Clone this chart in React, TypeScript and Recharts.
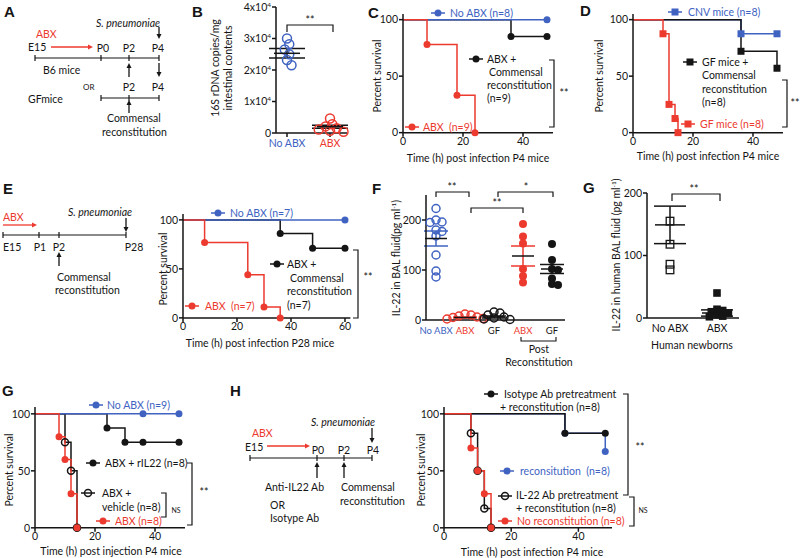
import React from 'react';
import { LineChart, Line, XAxis, YAxis, ScatterChart, Scatter, ErrorBar } from 'recharts';

const BLUE = '#4063c2';
const RED = '#ec3a2f';
const INK = '#151515';
const FONT = 'Lato, "Open Sans", Arial, sans-serif';
const FS = 10.5;

// ---- B: 16S rDNA copies/mg intestinal contents
const bLabels = ['No ABX', 'ABX'];
const bNoAbx = [30000, 28200, 26500, 25000, 23200, 21500];
const bAbx = [4600, 2800, 2100, 1500, 1100, 700, 400];
const bMean = [25300, 2000];
const bSem = [1500, 500];
const bTicks = [0, 10000, 20000, 30000, 40000];

// ---- C: survival, P4 mice (ABX vs reconstitution)
const cNoAbxT = [0, 48];
const cNoAbxS = [100, 100];
const cReconT = [0, 36, 48];
const cReconS = [100, 85, 85];
const cAbxT = [0, 8, 18, 24];
const cAbxS = [100, 78, 33, 0];

// ---- D: survival, germ-free mice
const dCnvT = [0, 36, 48];
const dCnvS = [100, 87.5, 87.5];
const dGfReconT = [0, 36, 48];
const dGfReconS = [100, 72, 57];
const dGfT = [0, 10, 12, 14, 15];
const dGfS = [100, 87.5, 25, 12.5, 0];

// ---- E: survival, P28 mice
const eNoAbxT = [0, 60];
const eNoAbxS = [100, 100];
const eReconT = [0, 36, 48, 60];
const eReconS = [100, 86, 71, 71];
const eAbxT = [0, 8, 24, 30, 36];
const eAbxS = [100, 77, 44, 11, 0];

// ---- F: IL-22 in BAL fluid
const fLabels = ['No ABX', 'ABX', 'GF', 'ABX', 'GF'];
const fNoAbx = [223, 200, 196, 195, 180, 177, 168, 130, 98, 86];
const fAbx = [12, 10, 8, 6, 5, 3, 2];
const fGf = [16, 14, 10, 6, 4, 2, 1];
const fAbxRecon = [192, 167, 153, 102, 88, 75];
const fGfRecon = [152, 120, 102, 100, 83, 72, 70];
const fMean = [163, 5, 6, 128, 102];
const fSem = [15, 1, 2, 20, 9];

// ---- G (top): IL-22 in human BAL fluid
const hbLabels = ['No ABX', 'ABX'];
const hbNoAbx = [155, 118, 86, 77];
const hbAbx = [40, 14, 12, 10, 8, 5, 3, 2];
const hbMean = [149, 8];
const hbSem = [30, 5];

// ---- G (bottom): survival after rIL22
const gNoAbxT = [0, 36, 48];
const gNoAbxS = [100, 100, 100];
const gIl22T = [0, 24, 30, 36, 48];
const gIl22S = [100, 87.5, 75, 75, 75];
const gVehT = [0, 10, 12, 14];
const gVehS = [100, 75, 50, 0];
const gAbxT = [0, 8, 10, 12, 14];
const gAbxS = [100, 80, 60, 30, 0];

// ---- H: survival after anti-IL22 pretreatment
const hIsoT = [0, 36, 48];
const hIsoS = [100, 83, 83];
const hReconT = [0, 36, 48];
const hReconS = [100, 83, 67];
const hAbT = [0, 8, 10, 12, 14];
const hAbS = [100, 83, 50, 17, 0];
const hNoReconT = [0, 8, 10, 12, 14];
const hNoReconS = [100, 70, 50, 30, 0];

const surviveTicks = [0, 50, 100];

type MarkKind = 'dot' | 'open' | 'square' | 'openSquare';

const AX = { stroke: INK, strokeWidth: 1.5 };
const TICK = { fontSize: FS, fill: INK, fontFamily: FONT };

const km = (t: number[], s: number[]) => t.map((v, i) => ({ t: v, s: s[i] }));

function Marker({ kind, x, y, color, r = 3.5 }: { kind: MarkKind; x: number; y: number; color: string; r?: number }) {
  if (kind === 'square') return <rect x={x - r} y={y - r} width={2 * r} height={2 * r} fill={color} />;
  if (kind === 'openSquare')
    return <rect x={x - r} y={y - r} width={2 * r} height={2 * r} fill="none" stroke={color} strokeWidth={1.3} />;
  if (kind === 'open') return <circle cx={x} cy={y} r={r} fill="none" stroke={color} strokeWidth={1.5} />;
  return <circle cx={x} cy={y} r={r} fill={color} />;
}

const stepDot = (kind: MarkKind, color: string) => (p: any) =>
  p.index === 0 ? (
    <g key={`d${p.index}`} />
  ) : (
    <g key={`d${p.index}`}>
      <Marker kind={kind} x={p.cx} y={p.cy} color={color} />
    </g>
  );

interface Series {
  t: number[];
  s: number[];
  color: string;
  kind: MarkKind;
}

function Survival({ x0, y0, x1, y1, xMax, yMax, xTicks, series }: any) {
  const yw = 30, xh = 20, mt = 4, mr = 6;
  return (
    <div style={{ position: 'absolute', left: x0 - yw, top: y0 - mt }}>
      <LineChart
        width={x1 - x0 + yw + mr}
        height={y1 - y0 + mt + xh}
        margin={{ top: mt, right: mr, bottom: 0, left: 0 }}
      >
        <XAxis
          type="number"
          dataKey="t"
          domain={[0, xMax]}
          ticks={xTicks}
          interval={0}
          height={xh}
          tickSize={4}
          tickMargin={1}
          axisLine={AX}
          tickLine={AX}
          tick={TICK}
        />
        <YAxis
          type="number"
          domain={[0, yMax]}
          ticks={surviveTicks}
          interval={0}
          width={yw}
          tickSize={4}
          tickMargin={1}
          axisLine={AX}
          tickLine={AX}
          tick={TICK}
        />
        {series.map((sr: Series, i: number) => (
          <Line
            key={i}
            data={km(sr.t, sr.s)}
            dataKey="s"
            type="stepAfter"
            stroke={sr.color}
            strokeWidth={1.5}
            dot={stepDot(sr.kind, sr.color)}
            activeDot={false}
            isAnimationActive={false}
          />
        ))}
      </LineChart>
    </div>
  );
}

// simple deterministic beeswarm so that markers in a group do not pile up
function swarm(values: number[], gx: number, pxX: number, pxY: number, r: number) {
  const placed: { dx: number; py: number }[] = [];
  return values.map((v) => {
    const py = v * pxY;
    let dx = 0;
    for (let k = 0; k < 40; k++) {
      const c = k === 0 ? 0 : (k % 2 ? 1 : -1) * Math.ceil(k / 2) * r * 0.5;
      if (placed.every((p) => Math.hypot(p.dx - c, p.py - py) >= r * 1.35)) {
        dx = c;
        break;
      }
    }
    placed.push({ dx, py });
    return { x: gx + dx / pxX, y: v };
  });
}

function DotPlot({ x0, y0, x1, y1, xDomain, yDomain, yTicks, yTick, labels, labelColors, labelSize, labelGap, groups, stats, meanW, capW, yw, xTickLine }: any) {
  const xh = 22, mt = 10, mr = 4;
  const pxX = (x1 - x0) / (xDomain[1] - xDomain[0]);
  const pxY = (y1 - y0) / (yDomain[1] - yDomain[0]);
  return (
    <div style={{ position: 'absolute', left: x0 - yw, top: y0 - mt }}>
      <ScatterChart
        width={x1 - x0 + yw + mr}
        height={y1 - y0 + mt + xh}
        margin={{ top: mt, right: mr, bottom: 0, left: 0 }}
      >
        <XAxis
          type="number"
          dataKey="x"
          domain={xDomain}
          ticks={labels.map((_: string, i: number) => i + 1)}
          interval={0}
          height={xh}
          tickSize={xTickLine ? 4 : 2}
          tickMargin={labelGap ?? 2}
          axisLine={AX}
          tickLine={xTickLine ? AX : false}
          tick={(p: any) => (
            <text
              x={p.x}
              y={p.y}
              dy="0.75em"
              textAnchor="middle"
              fontSize={labelSize || FS}
              fontFamily={FONT}
              fill={labelColors[p.payload.value - 1]}
            >
              {labels[p.payload.value - 1]}
            </text>
          )}
        />
        <YAxis
          type="number"
          dataKey="y"
          domain={yDomain}
          ticks={yTicks}
          interval={0}
          width={yw}
          tickSize={4}
          tickMargin={1}
          axisLine={AX}
          tickLine={AX}
          tick={yTick || TICK}
        />
        {groups.map((g: any, i: number) => (
          <Scatter
            key={i}
            data={swarm(g.values, g.x, pxX, pxY, g.r)}
            isAnimationActive={false}
            shape={(p: any) => <Marker kind={g.kind} x={p.cx} y={p.cy} color={g.color} r={g.r} />}
          />
        ))}
        {stats.map((s: any, i: number) => (
          <Scatter
            key={`s${i}`}
            data={[{ x: s.x, y: s.mean, e: s.sem }]}
            isAnimationActive={false}
            shape={(p: any) => (
              <line x1={p.cx - meanW / 2} x2={p.cx + meanW / 2} y1={p.cy} y2={p.cy} stroke={INK} strokeWidth={1.5} />
            )}
          >
            <ErrorBar dataKey="e" direction="y" width={capW} stroke={s.color} strokeWidth={1.5} />
          </Scatter>
        ))}
      </ScatterChart>
    </div>
  );
}

const expTick = (p: any) => {
  const v = p.payload.value;
  return (
    <text x={p.x} y={p.y} dy="0.35em" textAnchor="end" fontSize={FS} fontFamily={FONT} fill={INK}>
      {v === 0 ? '0' : `${v / 10000}x10`}
      {v === 0 ? null : (
        <tspan dy={-4} fontSize={6.5}>
          4
        </tspan>
      )}
    </text>
  );
};

// ---------- overlay helpers (schematics, in-plot legends, brackets) ----------
function Txt({ x, y, children, anchor = 'start', size = FS, color = INK, italic = false, weight = 400, rotate = false }: any) {
  return (
    <text
      x={x}
      y={y}
      textAnchor={anchor}
      dominantBaseline="central"
      fontSize={size}
      fill={color}
      fontStyle={italic ? 'italic' : 'normal'}
      fontWeight={weight}
      fontFamily={FONT}
      transform={rotate ? `rotate(-90 ${x} ${y})` : undefined}
    >
      {children}
    </text>
  );
}

const Letter = ({ x, y, t }: any) => (
  <text x={x} y={y} dominantBaseline="central" fontSize={15} fontWeight={700} fontFamily="'Liberation Sans', Arial, sans-serif" fill={INK}>
    {t}
  </text>
);

function Arrow({ x1, y1, x2, y2, color = INK, head = 5 }: any) {
  const a = Math.atan2(y2 - y1, x2 - x1);
  const hx = x2 - head * Math.cos(a);
  const hy = y2 - head * Math.sin(a);
  const px = -Math.sin(a) * head * 0.5;
  const py = Math.cos(a) * head * 0.5;
  return (
    <g>
      <line x1={x1} y1={y1} x2={hx} y2={hy} stroke={color} strokeWidth={1.3} />
      <polygon points={`${x2},${y2} ${hx + px},${hy + py} ${hx - px},${hy - py}`} fill={color} />
    </g>
  );
}

const Timeline = ({ y, xs }: any) => (
  <g stroke={INK} strokeWidth={1.2}>
    <line x1={xs[0]} x2={xs[xs.length - 1]} y1={y} y2={y} />
    {xs.map((x: number) => (
      <line key={x} x1={x} x2={x} y1={y - 3} y2={y + 3} />
    ))}
  </g>
);

const VBracket = ({ x, y1, y2, w = 5 }: any) => (
  <path d={`M${x - w},${y1} H${x} V${y2} H${x - w}`} fill="none" stroke={INK} strokeWidth={1.2} />
);
const HBracket = ({ x1, x2, y, h = 5 }: any) => (
  <path d={`M${x1},${y + h} V${y} H${x2} V${y + h}`} fill="none" stroke={INK} strokeWidth={1.2} />
);
const UBracket = ({ x1, x2, y, h = 4 }: any) => (
  <path d={`M${x1},${y - h} V${y} H${x2} V${y - h}`} fill="none" stroke={INK} strokeWidth={1.1} />
);

const LegMark = ({ x, y, kind, color }: any) => (
  <g>
    <line x1={x - 7} x2={x + 7} y1={y} y2={y} stroke={color} strokeWidth={1.5} />
    <Marker kind={kind} x={x} y={y} color={color} />
  </g>
);

const Sup = ({ pre, sup, post }: any) => (
  <>
    {pre}
    <tspan dy={-3} fontSize={6.5}>
      {sup}
    </tspan>
    <tspan dy={3}>{post}</tspan>
  </>
);

function Overlay() {
  return (
    <svg width={800} height={558} style={{ position: 'absolute', left: 0, top: 0, pointerEvents: 'none' }}>
      {/* panel letters */}
      <Letter x={4} y={11} t="A" />
      <Letter x={192} y={11} t="B" />
      <Letter x={368} y={12} t="C" />
      <Letter x={580} y={10} t="D" />
      <Letter x={3} y={188} t="E" />
      <Letter x={372} y={188} t="F" />
      <Letter x={583} y={187} t="G" />
      <Letter x={2} y={390} t="G" />
      <Letter x={230} y={390} t="H" />

      {/* A schematic */}
      <Txt x={96} y={23} italic>S. pneumoniae</Txt>
      <Arrow x1={159} y1={27} x2={159} y2={39} />
      <Txt x={36} y={34} color={RED}>ABX</Txt>
      <Txt x={28} y={47}>E15</Txt>
      <Arrow x1={51} y1={47} x2={93} y2={47} color={RED} />
      <Txt x={103} y={48} anchor="middle">P0</Txt>
      <Txt x={129} y={48} anchor="middle">P2</Txt>
      <Txt x={158} y={48} anchor="middle">P4</Txt>
      <Timeline y={58} xs={[35, 101, 129, 159]} />
      <Txt x={43} y={70}>B6 mice</Txt>
      <Arrow x1={129} y1={77} x2={129} y2={63} />
      <Arrow x1={159} y1={63} x2={159} y2={77} />
      <Txt x={83} y={87} size={8}>OR</Txt>
      <Txt x={129} y={87} anchor="middle">P2</Txt>
      <Txt x={158} y={87} anchor="middle">P4</Txt>
      <Txt x={28} y={99}>GFmice</Txt>
      <Timeline y={98} xs={[101, 129, 159]} />
      <Arrow x1={129} y1={113} x2={129} y2={100} />
      <Txt x={107} y={118}>Commensal</Txt>
      <Txt x={102} y={132}>reconstitution</Txt>

      {/* B labels */}
      <Txt x={215} y={68} anchor="middle" rotate>16S rDNA copies/mg</Txt>
      <Txt x={228} y={68} anchor="middle" rotate>intestinal contents</Txt>
      <HBracket x1={287} x2={333} y={25} h={7} />
      <Txt x={310} y={20} anchor="middle">**</Txt>

      {/* C labels */}
      <Txt x={377} y={76} anchor="middle" rotate>Percent survival</Txt>
      <Txt x={478} y={158} anchor="middle">Time (h) post infection P4 mice</Txt>
      <LegMark x={438} y={13} kind="dot" color={BLUE} />
      <Txt x={450} y={13} color={BLUE}>No ABX (n=8)</Txt>
      <LegMark x={476} y={59} kind="dot" color={INK} />
      <Txt x={487} y={59}>ABX +</Txt>
      <Txt x={489} y={72}>Commensal</Txt>
      <Txt x={487} y={85}>reconstitution</Txt>
      <Txt x={487} y={98}>(n=9)</Txt>
      <LegMark x={412} y={127} kind="dot" color={RED} />
      <Txt x={423} y={127} color={RED}>{'ABX\u00a0 (n=9)'}</Txt>
      <VBracket x={554} y1={60} y2={127} />
      <Txt x={564} y={93} anchor="middle">**</Txt>

      {/* D labels */}
      <Txt x={599} y={76} anchor="middle" rotate>Percent survival</Txt>
      <Txt x={708} y={156} anchor="middle">Time (h) post infection P4 mice</Txt>
      <LegMark x={675} y={12} kind="square" color={BLUE} />
      <Txt x={688} y={12} color={BLUE}>CNV mice (n=8)</Txt>
      <LegMark x={690} y={62} kind="square" color={INK} />
      <Txt x={702} y={62}>GF mice +</Txt>
      <Txt x={702} y={75}>Commensal</Txt>
      <Txt x={702} y={89}>reconstitution</Txt>
      <Txt x={702} y={102}>(n=8)</Txt>
      <LegMark x={688} y={124} kind="square" color={RED} />
      <Txt x={700} y={124} color={RED}>GF mice (n=8)</Txt>
      <VBracket x={787} y1={80} y2={127} />
      <Txt x={795} y={103} anchor="middle">**</Txt>

      {/* E schematic */}
      <Txt x={3} y={217} color={RED}>ABX</Txt>
      <Arrow x1={3} y1={225} x2={37} y2={225} color={RED} />
      <Txt x={68} y={212} italic>S. pneumoniae</Txt>
      <Arrow x1={126} y1={218} x2={126} y2={232} />
      <Timeline y={235} xs={[3, 39, 59, 126]} />
      <Txt x={3} y={247}>E15</Txt>
      <Txt x={40} y={247} anchor="middle">P1</Txt>
      <Txt x={59} y={247} anchor="middle">P2</Txt>
      <Txt x={134} y={247} anchor="middle">P28</Txt>
      <Arrow x1={59} y1={266} x2={59} y2={252} />
      <Txt x={57} y={277}>Commensal</Txt>
      <Txt x={55} y={290}>reconstitution</Txt>

      {/* E survival labels */}
      <Txt x={163} y={269} anchor="middle" rotate>Percent survival</Txt>
      <Txt x={260} y={343} anchor="middle">Time (h) post infection P28 mice</Txt>
      <LegMark x={218} y={213} kind="dot" color={BLUE} />
      <Txt x={230} y={213} color={BLUE}>No ABX (n=7)</Txt>
      <LegMark x={277} y={264} kind="dot" color={INK} />
      <Txt x={287} y={264}>ABX +</Txt>
      <Txt x={290} y={278}>Commensal</Txt>
      <Txt x={287} y={291}>reconstitution</Txt>
      <Txt x={287} y={305}>(n=7)</Txt>
      <LegMark x={192} y={306} kind="dot" color={RED} />
      <Txt x={205} y={306} color={RED}>{'ABX\u00a0 (n=7)'}</Txt>
      <VBracket x={358} y1={250} y2={318} />
      <Txt x={368} y={277} anchor="middle">**</Txt>

      {/* F labels */}
      <Txt x={396} y={258} anchor="middle" rotate>
        <Sup pre="IL-22 in BAL fluid(pg ml" sup="-1" post=")" />
      </Txt>
      <HBracket x1={436} x2={469} y={192} />
      <Txt x={452} y={187} anchor="middle">**</Txt>
      <HBracket x1={471} x2={523} y={208} />
      <Txt x={497} y={203} anchor="middle">**</Txt>
      <HBracket x1={498} x2={553} y={192} />
      <Txt x={526} y={187} anchor="middle">*</Txt>
      <UBracket x1={521} x2={556} y={341} />
      <Txt x={539} y={349} anchor="middle">Post</Txt>
      <Txt x={539} y={362} anchor="middle">Reconstitution</Txt>

      {/* G human labels */}
      <Txt x={616} y={255} anchor="middle" rotate>
        <Sup pre="IL-22 in human BAL fluid (pg ml" sup="-1" post=")" />
      </Txt>
      <Txt x={692} y={345} anchor="middle">Human newborns</Txt>
      <HBracket x1={672} x2={720} y={194} h={7} />
      <Txt x={694} y={189} anchor="middle">**</Txt>

      {/* G survival labels */}
      <Txt x={9} y={470} anchor="middle" rotate>Percent survival</Txt>
      <Txt x={111} y={551} anchor="middle">Time (h) post injection P4 mice</Txt>
      <LegMark x={96} y={405} kind="dot" color={BLUE} />
      <Txt x={107} y={405} color={BLUE}>No ABX (n=9)</Txt>
      <LegMark x={93} y={463} kind="dot" color={INK} />
      <Txt x={105} y={463}>ABX + rIL22 (n=8)</Txt>
      <VBracket x={192} y1={463} y2={525} />
      <Txt x={204} y={492} anchor="middle">**</Txt>
      <LegMark x={88} y={493} kind="open" color={INK} />
      <Txt x={102} y={493}>ABX +</Txt>
      <Txt x={102} y={507}>vehicle (n=8)</Txt>
      <VBracket x={166} y1={493} y2={517} />
      <Txt x={176} y={510} anchor="middle" size={7}>NS</Txt>
      <LegMark x={103} y={521} kind="dot" color={RED} />
      <Txt x={115} y={521} color={RED}>ABX (n=8)</Txt>

      {/* H schematic */}
      <Txt x={252} y={433} color={RED}>ABX</Txt>
      <Txt x={245} y={447}>E15</Txt>
      <Arrow x1={267} y1={446} x2={310} y2={446} color={RED} />
      <Txt x={311} y={422} italic>S. pneumoniae</Txt>
      <Arrow x1={372} y1={428} x2={372} y2={443} />
      <Txt x={318} y={450} anchor="middle">P0</Txt>
      <Txt x={344} y={450} anchor="middle">P2</Txt>
      <Txt x={373} y={450} anchor="middle">P4</Txt>
      <Timeline y={458} xs={[250, 317, 344, 372]} />
      <Arrow x1={317} y1={478} x2={317} y2={462} />
      <Arrow x1={344} y1={478} x2={344} y2={462} />
      <Txt x={265} y={487}>Anti-IL22 Ab</Txt>
      <Txt x={341} y={487}>Commensal</Txt>
      <Txt x={340} y={501}>reconstitution</Txt>
      <Txt x={270} y={505}>OR</Txt>
      <Txt x={270} y={518}>Isotype Ab</Txt>

      {/* H survival labels */}
      <Txt x={421} y={470} anchor="middle" rotate>Percent survival</Txt>
      <Txt x={532} y={552} anchor="middle">Time (h) post infection P4 mice</Txt>
      <LegMark x={491} y={394} kind="dot" color={INK} />
      <Txt x={504} y={394}>Isotype Ab pretreatment</Txt>
      <Txt x={500} y={407}>+ reconstitution (n=8)</Txt>
      <VBracket x={628} y1={394} y2={495} />
      <Txt x={640} y={447} anchor="middle">**</Txt>
      <LegMark x={507} y={471} kind="dot" color={BLUE} />
      <Txt x={520} y={471} color={BLUE}>{'reconsitution\u00a0 (n=8)'}</Txt>
      <LegMark x={505} y={496} kind="open" color={INK} />
      <Txt x={516} y={495}>IL-22 Ab pretreatment</Txt>
      <Txt x={516} y={508}>+ reconstitution (n=8)</Txt>
      <LegMark x={505} y={521} kind="dot" color={RED} />
      <Txt x={517} y={521} color={RED}>No reconstitution (n=8)</Txt>
      <VBracket x={634} y1={497} y2={526} />
      <Txt x={643} y={510} anchor="middle" size={7}>NS</Txt>
    </svg>
  );
}

export default function App() {
  return (
    <div style={{ position: 'absolute', left: 0, top: 0, width: 800, height: 558, background: '#fff', overflow: 'hidden' }}>
      {/* B */}
      <DotPlot
        x0={276}
        y0={7}
        x1={347}
        y1={133}
        xDomain={[1 - 11 / 43, 1 + 60 / 43]}
        yDomain={[0, 40000]}
        yTicks={bTicks}
        yTick={expTick}
        yw={44}
        xTickLine
        labels={bLabels}
        labelColors={[BLUE, RED]}
        meanW={26}
        capW={18}
        groups={[
          { values: bNoAbx, x: 1, kind: 'open', color: BLUE, r: 4.5 },
          { values: bAbx, x: 2, kind: 'open', color: RED, r: 4.5 },
        ]}
        stats={[
          { x: 1, mean: bMean[0], sem: bSem[0], color: INK },
          { x: 2, mean: bMean[1], sem: bSem[1], color: INK },
        ]}
      />

      {/* C */}
      <Survival
        x0={403}
        y0={133 - 105 * 1.13}
        x1={553}
        y1={133}
        xMax={50}
        yMax={105}
        xTicks={[0, 20, 40]}
        series={[
          { t: cReconT, s: cReconS, color: INK, kind: 'dot' },
          { t: cNoAbxT, s: cNoAbxS, color: BLUE, kind: 'dot' },
          { t: cAbxT, s: cAbxS, color: RED, kind: 'dot' },
        ]}
      />

      {/* D */}
      <Survival
        x0={633}
        y0={133 - 105 * 1.13}
        x1={783}
        y1={133}
        xMax={50}
        yMax={105}
        xTicks={[0, 20, 40]}
        series={[
          { t: dCnvT, s: dCnvS, color: BLUE, kind: 'square' },
          { t: dGfReconT, s: dGfReconS, color: INK, kind: 'square' },
          { t: dGfT, s: dGfS, color: RED, kind: 'square' },
        ]}
      />

      {/* E */}
      <Survival
        x0={183}
        y0={318 - 106 * 0.98}
        x1={183 + 62 * 2.7}
        y1={318}
        xMax={62}
        yMax={106}
        xTicks={[0, 20, 40, 60]}
        series={[
          { t: eReconT, s: eReconS, color: INK, kind: 'dot' },
          { t: eNoAbxT, s: eNoAbxS, color: BLUE, kind: 'dot' },
          { t: eAbxT, s: eAbxS, color: RED, kind: 'dot' },
        ]}
      />

      {/* F */}
      <DotPlot
        x0={426}
        y0={195}
        x1={565}
        y1={320}
        xDomain={[1 - 10 / 29, 1 + 129 / 29]}
        yDomain={[0, 250]}
        yTicks={[0, 100, 200]}
        yw={30}
        labels={fLabels}
        labelColors={[BLUE, RED, INK, RED, INK]}
        labelSize={9.5}
        labelGap={5}
        meanW={22}
        capW={12}
        groups={[
          { values: fNoAbx, x: 1, kind: 'open', color: BLUE, r: 4 },
          { values: fAbx, x: 2, kind: 'open', color: RED, r: 4 },
          { values: fGf, x: 3, kind: 'open', color: INK, r: 4 },
          { values: fAbxRecon, x: 4, kind: 'dot', color: RED, r: 4 },
          { values: fGfRecon, x: 5, kind: 'dot', color: INK, r: 4 },
        ]}
        stats={[
          { x: 1, mean: fMean[0], sem: fSem[0], color: BLUE },
          { x: 2, mean: fMean[1], sem: fSem[1], color: RED },
          { x: 3, mean: fMean[2], sem: fSem[2], color: INK },
          { x: 4, mean: fMean[3], sem: fSem[3], color: RED },
          { x: 5, mean: fMean[4], sem: fSem[4], color: INK },
        ]}
      />

      {/* G human */}
      <DotPlot
        x0={647}
        y0={193}
        x1={739}
        y1={318}
        xDomain={[1 - 23 / 47, 1 + 69 / 47]}
        yDomain={[0, 200]}
        yTicks={[0, 100, 200]}
        yw={30}
        labels={hbLabels}
        labelColors={[INK, INK]}
        labelGap={4}
        meanW={30}
        capW={16}
        groups={[
          { values: hbNoAbx, x: 1, kind: 'openSquare', color: INK, r: 3.8 },
          { values: hbAbx, x: 2, kind: 'square', color: INK, r: 3.8 },
        ]}
        stats={[
          { x: 1, mean: hbMean[0], sem: hbSem[0], color: INK },
          { x: 2, mean: hbMean[1], sem: hbSem[1], color: INK },
        ]}
      />

      {/* G survival */}
      <Survival
        x0={35}
        y0={528 - 106 * 1.14}
        x1={185}
        y1={528}
        xMax={50}
        yMax={106}
        xTicks={[0, 20, 40]}
        series={[
          { t: gIl22T, s: gIl22S, color: INK, kind: 'dot' },
          { t: gVehT, s: gVehS, color: INK, kind: 'open' },
          { t: gNoAbxT, s: gNoAbxS, color: BLUE, kind: 'dot' },
          { t: gAbxT, s: gAbxS, color: RED, kind: 'dot' },
        ]}
      />

      {/* H survival */}
      <Survival
        x0={444}
        y0={528 - 106 * 1.14}
        x1={444 + 50 * 3.36}
        y1={528}
        xMax={50}
        yMax={106}
        xTicks={[0, 20, 40]}
        series={[
          { t: hReconT, s: hReconS, color: BLUE, kind: 'dot' },
          { t: hIsoT, s: hIsoS, color: INK, kind: 'dot' },
          { t: hAbT, s: hAbS, color: INK, kind: 'open' },
          { t: hNoReconT, s: hNoReconS, color: RED, kind: 'dot' },
        ]}
      />

      <Overlay />
    </div>
  );
}
